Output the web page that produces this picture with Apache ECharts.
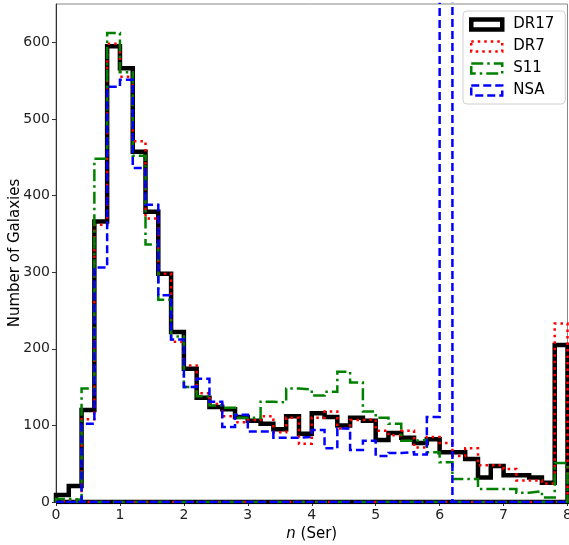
<!DOCTYPE html>
<html>
<head>
    <meta charset="UTF-8">
    <script type="text/javascript" src="https://cdn.jsdelivr.net/npm/echarts@6/dist/echarts.min.js"></script>
    <style type="text/css">
        *{
            margin: 0;
            padding: 0;
        }
        #main{
            width: 569px;
            height: 545px;
        }
    </style>
</head>
<body>
<div id="main"></div>
<script type="text/javascript">
    // histogram of Sersic index, bins of 0.2 from 0 to 8
    var binStart = 0;
    var binWidth = 0.2;
    var xTicks = [0, 1, 2, 3, 4, 5, 6, 7, 8];
    var yTicks = [0, 100, 200, 300, 400, 500, 600];

    var dr17 = [9,21,120,366,595,566,457,379,298,222,174,136,124,121,111,106,102,95,112,89,
                116,111,100,110,106,81,90,84,77,82,65,65,56,32,47,35,35,32,25,205];
    var dr7  = [2,4,108,362,598,555,471,370,298,209,178,142,128,112,104,107,112,91,110,76,
                110,118,96,107,108,93,87,93,71,85,77,60,70,48,48,43,28,28,24,233];
    var s11  = [4,3,148,448,612,561,452,336,264,216,150,138,126,123,110,110,131,130,148,147,
                139,144,170,156,118,110,102,80,81,65,52,30,30,17,17,17,12,14,6,51];
    var nsa  = [0,0,102,306,542,551,436,388,270,212,150,161,131,98,114,92,92,84,84,85,
                94,70,96,68,80,60,64,65,62,111,1000,0,0,0,0,0,0,0,0,0];

    // outline like matplotlib histtype='step'
    function stepPath(counts) {
        var pts = [[binStart, 0]];
        for (var i = 0; i < counts.length; i++) {
            var x0 = +(binStart + i * binWidth).toFixed(4);
            var x1 = +(binStart + (i + 1) * binWidth).toFixed(4);
            pts.push([x0, counts[i]]);
            pts.push([x1, counts[i]]);
        }
        var xEnd = +(binStart + counts.length * binWidth).toFixed(4);
        pts.push([xEnd, 0]);
        pts.push([binStart, 0]);
        return pts;
    }

    var font = 'DejaVu Sans';
    var styles = [
        {name: 'DR17', data: dr17, color: '#000000', width: 4.5, type: 'solid'},
        {name: 'DR7',  data: dr7,  color: '#ff0000', width: 2.5, type: [2.5, 4]},
        {name: 'S11',  data: s11,  color: '#008000', width: 2.5, type: [12, 4, 2.5, 4]},
        {name: 'NSA',  data: nsa,  color: '#0000ff', width: 2.5, type: [8, 4]}
    ];

    var series = styles.map(function (s, k) {
        return {
            name: s.name,
            type: 'line',
            data: stepPath(s.data),
            showSymbol: false,
            symbol: 'none',
            animation: false,
            z: 2 + k,
            lineStyle: {color: s.color, width: s.width, type: s.type, cap: 'butt', join: 'miter'},
            itemStyle: {color: s.color}
        };
    });

    var myChart = echarts.init(document.getElementById('main'));
    var option = {
        animation: false,
        grid: {
            left: 56, right: 1.5, top: 4, bottom: 43,
            outerBoundsMode: 'none',
            containLabel: false,
            show: true, borderColor: '#888', borderWidth: 1
        },
        legend: {
            orient: 'vertical',
            left: 463, top: 11,
            padding: [6, 11, 6, 6],
            itemGap: 7,
            itemWidth: 31,
            itemHeight: 10,
            icon: 'rect',
            backgroundColor: '#fff',
            borderColor: '#d0d0d0',
            borderWidth: 1,
            borderRadius: 4,
            textStyle: {fontFamily: font, fontSize: 15, color: '#000', padding: [0, 0, 0, 6]},
            data: styles.map(function (s) {
                return {
                    name: s.name,
                    itemStyle: {color: 'transparent', borderColor: s.color, borderWidth: s.width, borderType: s.type}
                };
            })
        },
        xAxis: {
            type: 'value',
            min: 0, max: 8, interval: 1,
            name: '{i|n} (Ser)',
            nameLocation: 'middle',
            nameGap: 25,
            nameTextStyle: {
                fontFamily: font, fontSize: 15, color: '#000',
                rich: {i: {fontFamily: font, fontSize: 15, fontStyle: 'italic', color: '#000'}}
            },
            splitLine: {show: false},
            axisLine: {onZero: false, lineStyle: {color: '#333', width: 1}},
            axisTick: {show: true, length: 4, lineStyle: {color: '#333'}},
            axisLabel: {
                fontFamily: font, fontSize: 14, color: '#222', margin: 6,
                customValues: xTicks
            }
        },
        yAxis: {
            type: 'value',
            min: 0, max: 650,
            name: 'Number of Galaxies',
            nameLocation: 'middle',
            nameMoveOverlap: false,
            nameGap: 33,
            nameTextStyle: {fontFamily: font, fontSize: 15, color: '#000'},
            splitLine: {show: false},
            axisLine: {show: true, lineStyle: {color: '#333', width: 1}},
            axisTick: {show: true, length: 4, lineStyle: {color: '#333'}, customValues: yTicks},
            axisLabel: {
                fontFamily: font, fontSize: 14, color: '#222', margin: 6,
                customValues: yTicks
            }
        },
        series: series
    };
    myChart.setOption(option);
</script>
</body>
</html>
